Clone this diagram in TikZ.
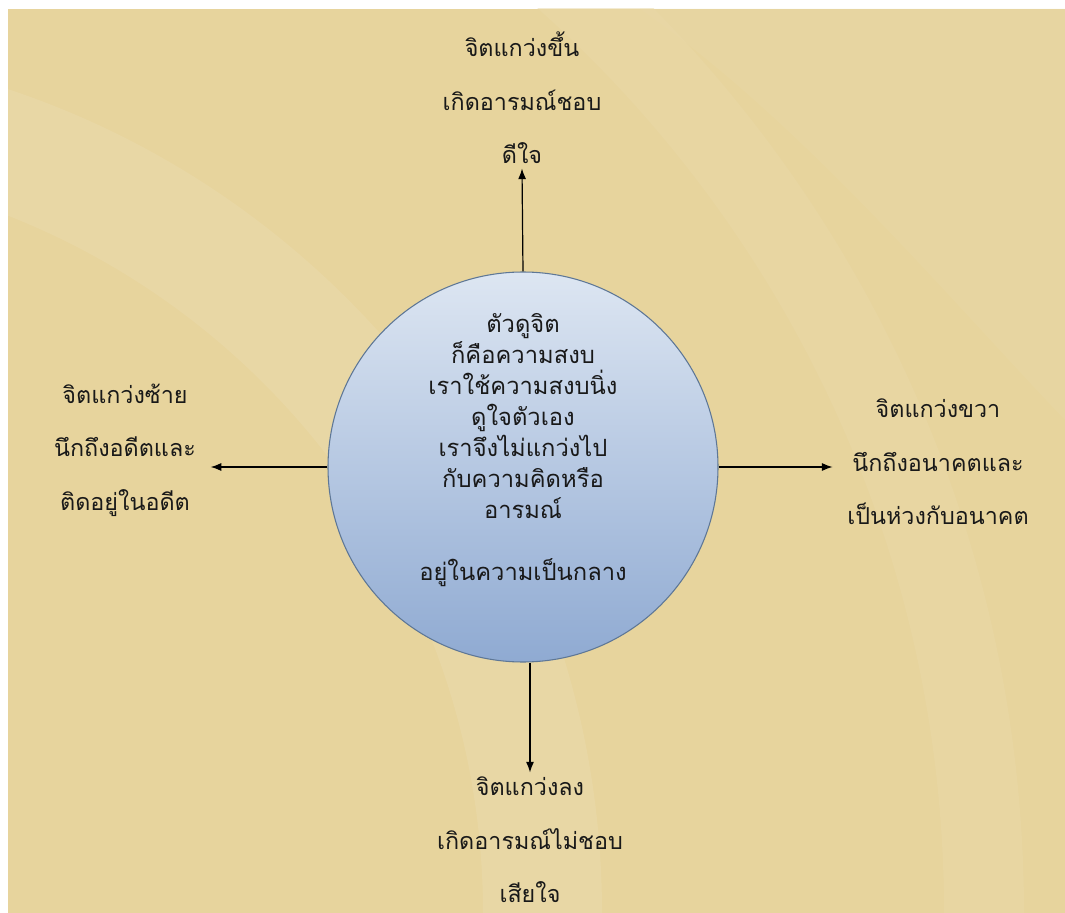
\documentclass[tikz,border=0pt]{standalone}
\usepackage{fontspec}
\newfontfamily\thaifont[Script=Thai]{Loma}
\usepackage{tikz}
\usetikzlibrary{arrows.meta}

\definecolor{sand}{HTML}{E7D49D}
\definecolor{sandlight}{HTML}{E9D8A7}
\definecolor{calmtop}{HTML}{DDE6F2}
\definecolor{calmbot}{HTML}{8FAAD2}
\definecolor{calmrim}{HTML}{5E7796}

\tikzset{
  swing/.style={font=\thaifont\fontsize{17.5}{40}\selectfont, align=center, text=black!90},
  calm/.style={circle, minimum size=292.5pt, inner sep=0pt, draw=calmrim, line width=0.8pt,
    top color=calmtop, bottom color=calmbot},
  calmtext/.style={font=\thaifont\fontsize{17.8}{23.25}\selectfont, align=center, text=black!90},
  pull/.style={-{Latex[length=8pt,width=6pt]}, line width=0.9pt}
}

\begin{document}
\begin{tikzpicture}[x=0.75pt,y=-0.75pt]
    \useasboundingbox (0,0) rectangle (1065,913);
    \fill[white] (0,0) rectangle (1065,913);
    \begin{scope}
      \clip (8,9) rectangle (1065,913);
      \fill[sand] (8,9) rectangle (1065,913);
      \fill[sandlight, opacity=0.8, even odd rule] (-266,913) circle[radius=868] (-266,913) circle[radius=749];
      \fill[sandlight, opacity=0.5, even odd rule] (-266,913) circle[radius=1290] (-266,913) circle[radius=1210];
      \fill[sandlight, opacity=0.4] (1065,9) -- (640,9) .. controls (800,120) and (950,300) .. (1065,420) -- cycle;
    \end{scope}

    \node[calm] (mind) at (523,467) {};
    \node[calmtext] (mindtext) at (523,450)
      {ตัวดูจิต\\ก็คือความสงบ\\เราใช้ความสงบนิ่ง\\ดูใจตัวเอง\\เราจึงไม่แกว่งไป\\กับความคิดหรือ\\อารมณ์\\[23.25pt]อยู่ในความเป็นกลาง};

    \node[swing] (up) at (522,98) {จิตแกว่งขึ้น\\เกิดอารมณ์ชอบ\\ดีใจ};
    \node[swing] (left) at (125,450) {จิตแกว่งซ้าย\\นึกถึงอดีตและ\\ติดอยู่ในอดีต};
    \node[swing] (right) at (938,462) {จิตแกว่งขวา\\นึกถึงอนาคตและ\\เป็นห่วงกับอนาคต};
    \node[swing] (down) at (530,840) {จิตแกว่งลง\\เกิดอารมณ์ไม่ชอบ\\เสียใจ};

    \draw[pull] (mind.north) -- (up.south);
    \draw[pull, shorten >=7.5pt] (mind.west) -- (mind.west -| left.east);
    \draw[pull, shorten >=7.5pt] (mind.east) -- (mind.east -| right.west);
    \draw[pull] (mind.south -| down.north) -- (down.north);
    % \draw (mind) -- (mindtext);
\end{tikzpicture}
\end{document}
